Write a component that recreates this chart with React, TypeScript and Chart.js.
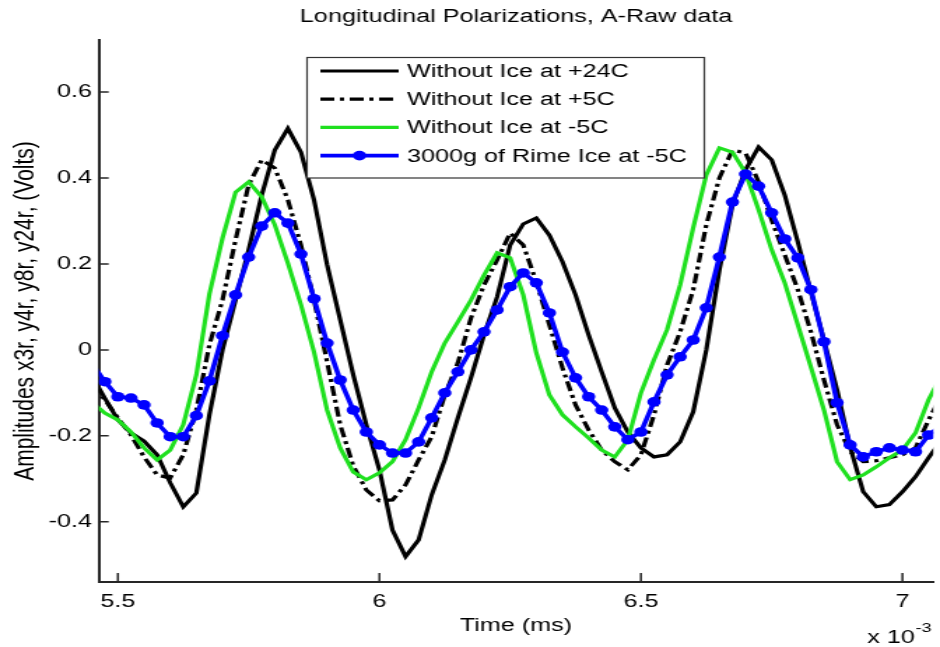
import { useEffect, useRef } from 'react';
import { Chart, registerables } from 'chart.js';

Chart.register(...registerables);

// Time axis (units of 10^-3 ms)
const times = [
  5.45, 5.475, 5.5, 5.525, 5.55, 5.575, 5.6, 5.625, 5.65, 5.675,
  5.7, 5.725, 5.75, 5.775, 5.8, 5.825, 5.85, 5.875, 5.9, 5.925,
  5.95, 5.975, 6.0, 6.025, 6.05, 6.075, 6.1, 6.125, 6.15, 6.175,
  6.2, 6.225, 6.25, 6.275, 6.3, 6.325, 6.35, 6.375, 6.4, 6.425,
  6.45, 6.475, 6.5, 6.525, 6.55, 6.575, 6.6, 6.625, 6.65, 6.675,
  6.7, 6.725, 6.75, 6.775, 6.8, 6.825, 6.85, 6.875, 6.9, 6.925,
  6.95, 6.975, 7.0, 7.025, 7.05, 7.075,
];

const withoutIce24C = [
  -0.06, -0.112, -0.163, -0.193, -0.212, -0.244, -0.309, -0.365, -0.333, -0.151,
  0.0, 0.116, 0.233, 0.36, 0.465, 0.515, 0.46, 0.349, 0.198, 0.07,
  -0.058, -0.174, -0.279, -0.419, -0.481, -0.442, -0.337, -0.256, -0.158, -0.065,
  0.035, 0.123, 0.244, 0.293, 0.307, 0.267, 0.205, 0.128, 0.035, -0.051,
  -0.135, -0.191, -0.228, -0.249, -0.244, -0.214, -0.144, 0.0, 0.186, 0.337,
  0.419, 0.472, 0.442, 0.36, 0.251, 0.135, 0.023, -0.093, -0.226, -0.33,
  -0.365, -0.36, -0.33, -0.295, -0.251, -0.209,
];

const withoutIce5C = [
  -0.08, -0.116, -0.158, -0.198, -0.249, -0.291, -0.298, -0.244, -0.14, 0.012,
  0.116, 0.256, 0.384, 0.442, 0.423, 0.349, 0.244, 0.116, -0.028, -0.174,
  -0.27, -0.326, -0.351, -0.349, -0.314, -0.256, -0.202, -0.105, -0.03, 0.074,
  0.151, 0.209, 0.272, 0.244, 0.158, 0.058, -0.042, -0.128, -0.186, -0.233,
  -0.26, -0.279, -0.244, -0.151, -0.035, 0.042, 0.14, 0.291, 0.4, 0.465,
  0.458, 0.391, 0.302, 0.221, 0.14, 0.042, -0.07, -0.174, -0.237, -0.26,
  -0.258, -0.251, -0.244, -0.228, -0.163, -0.105,
];

const withoutIceMinus5C = [
  -0.121, -0.147, -0.163, -0.191, -0.228, -0.256, -0.233, -0.174, -0.058, 0.13,
  0.26, 0.367, 0.391, 0.356, 0.291, 0.202, 0.105, -0.005, -0.14, -0.228,
  -0.284, -0.302, -0.286, -0.26, -0.209, -0.135, -0.051, 0.016, 0.065, 0.116,
  0.174, 0.226, 0.214, 0.128, -0.007, -0.105, -0.151, -0.179, -0.205, -0.233,
  -0.249, -0.209, -0.1, -0.023, 0.047, 0.151, 0.284, 0.407, 0.47, 0.46,
  0.412, 0.326, 0.233, 0.156, 0.058, -0.04, -0.14, -0.26, -0.302, -0.291,
  -0.272, -0.251, -0.233, -0.193, -0.116, -0.058,
];

const rimeIce3000g = [
  -0.03, -0.074, -0.109, -0.112, -0.128, -0.17, -0.202, -0.202, -0.153, -0.072,
  0.033, 0.128, 0.216, 0.288, 0.319, 0.295, 0.223, 0.119, 0.016, -0.07,
  -0.14, -0.191, -0.221, -0.24, -0.24, -0.214, -0.158, -0.1, -0.051, 0.0,
  0.042, 0.093, 0.147, 0.179, 0.156, 0.086, -0.005, -0.065, -0.109, -0.14,
  -0.179, -0.209, -0.191, -0.121, -0.058, -0.016, 0.023, 0.098, 0.216, 0.344,
  0.409, 0.381, 0.319, 0.258, 0.214, 0.14, 0.019, -0.123, -0.221, -0.249,
  -0.237, -0.228, -0.233, -0.237, -0.198, -0.175,
];

const seriesLabels = [
  'Without Ice at +24C',
  'Without Ice at +5C',
  'Without Ice at -5C',
  '3000g of Rime Ice at -5C',
];

const xTicks = [5.5, 6, 6.5, 7];
const yTicks = [-0.4, -0.2, 0, 0.2, 0.4, 0.6];

const FONT = 'Liberation Sans, Arial, Helvetica, sans-serif';
const AXIS_COLOR = '#262626';

const toPoints = (vals: number[]) => vals.map((v, i) => ({ x: times[i], y: v }));

// Inward tick marks, MATLAB style
const inwardTicksPlugin = {
  id: 'inwardTicks',
  afterDatasetsDraw(chart: any) {
    const ctx = chart.ctx as CanvasRenderingContext2D;
    const { left, bottom } = chart.chartArea;
    const xs = chart.scales.x;
    const ys = chart.scales.y;
    ctx.save();
    ctx.strokeStyle = AXIS_COLOR;
    ctx.lineWidth = 1.5;
    ctx.beginPath();
    xs.ticks.forEach((t: any) => {
      const px = xs.getPixelForValue(t.value);
      ctx.moveTo(px, bottom);
      ctx.lineTo(px, bottom - 9);
    });
    ys.ticks.forEach((t: any) => {
      const py = ys.getPixelForValue(t.value);
      ctx.moveTo(left, py);
      ctx.lineTo(left + 7, py);
    });
    ctx.stroke();
    ctx.restore();
  },
};

const legendPlugin = {
  id: 'matlabLegend',
  afterDraw(chart: any) {
    const ctx = chart.ctx as CanvasRenderingContext2D;
    const x0 = 219.5, y0 = 57.5, w = 284, h = 120.5;
    ctx.save();
    ctx.fillStyle = '#ffffff';
    ctx.fillRect(x0, y0, w, h);
    ctx.strokeStyle = '#333333';
    ctx.lineWidth = 1.2;
    ctx.strokeRect(x0, y0, w, h);
    chart.data.datasets.forEach((ds: any, i: number) => {
      const y = 71 + i * 28.2;
      ctx.beginPath();
      ctx.setLineDash(ds.borderDash || []);
      ctx.lineWidth = ds.borderWidth;
      ctx.strokeStyle = ds.borderColor;
      ctx.moveTo(229, y);
      ctx.lineTo(285, y);
      ctx.stroke();
      ctx.setLineDash([]);
      if (ds.pointRadius > 0) {
        ctx.beginPath();
        ctx.fillStyle = ds.pointBackgroundColor;
        ctx.arc(257, y, ds.pointRadius, 0, Math.PI * 2);
        ctx.fill();
      }
      ctx.fillStyle = '#000000';
      ctx.font = `18px ${FONT}`;
      ctx.textBaseline = 'middle';
      ctx.textAlign = 'left';
      ctx.fillText(ds.label, 291, y + 1);
    });
    ctx.restore();
  },
};

const exponentPlugin = {
  id: 'axisExponent',
  afterDraw(chart: any) {
    const ctx = chart.ctx as CanvasRenderingContext2D;
    ctx.save();
    ctx.fillStyle = '#000000';
    ctx.textBaseline = 'alphabetic';
    ctx.textAlign = 'left';
    ctx.font = `18px ${FONT}`;
    const base = 'x 10';
    const bx = 620;
    ctx.fillText(base, bx, 643);
    const bw = ctx.measureText(base).width;
    ctx.font = `13px ${FONT}`;
    ctx.fillText('-3', bx + bw + 0.5, 632);
    ctx.restore();
  },
};

export default function App() {
  const canvasRef = useRef<HTMLCanvasElement | null>(null);

  useEffect(() => {
    document.body.style.margin = '0';
    const canvas = canvasRef.current;
    if (!canvas) return;
    const chart = new Chart(canvas, {
      type: 'line',
      data: {
        datasets: [
          {
            label: seriesLabels[0],
            data: toPoints(withoutIce24C),
            borderColor: '#000000',
            backgroundColor: '#000000',
            borderWidth: 3.2,
            pointRadius: 0,
            order: 4,
          },
          {
            label: seriesLabels[1],
            data: toPoints(withoutIce5C),
            borderColor: '#000000',
            backgroundColor: '#000000',
            borderWidth: 3.2,
            borderDash: [10, 4, 3, 4],
            pointRadius: 0,
            order: 3,
          },
          {
            label: seriesLabels[2],
            data: toPoints(withoutIceMinus5C),
            borderColor: '#1fe01f',
            backgroundColor: '#1fe01f',
            borderWidth: 3.2,
            pointRadius: 0,
            order: 2,
          },
          {
            label: seriesLabels[3],
            data: toPoints(rimeIce3000g),
            borderColor: '#0000ff',
            backgroundColor: '#0000ff',
            pointBackgroundColor: '#0000ff',
            pointBorderColor: '#0000ff',
            borderWidth: 3.6,
            pointRadius: 4.8,
            pointBorderWidth: 0,
            order: 1,
          },
        ] as any,
      },
      options: {
        animation: false,
        responsive: false,
        devicePixelRatio: 1,
        events: [],
        layout: { padding: { left: 0, right: 4.1, top: 0, bottom: 0 } },
        elements: { line: { tension: 0, fill: false } },
        datasets: { line: { clip: 0 } } as any,
        plugins: {
          legend: { display: false },
          tooltip: { enabled: false },
          title: {
            display: true,
            text: 'Longitudinal Polarizations, A-Raw data',
            fullSize: false,
            color: '#000000',
            font: { family: FONT, size: 18, weight: 'normal' },
            padding: { top: 6.7, bottom: 11.7 },
          },
        },
        scales: {
          x: {
            type: 'linear',
            min: 5.4637,
            max: 7.059,
            afterBuildTicks: (s: any) => {
              s.ticks = xTicks.map((v) => ({ value: v }));
            },
            afterFit: (s: any) => {
              s.height = 65;
            },
            ticks: {
              autoSkip: false,
              maxRotation: 0,
              color: '#000000',
              font: { family: FONT, size: 18 },
              padding: 8.9,
              callback: (v: any) => String(v),
            },
            grid: { drawOnChartArea: false, drawTicks: false },
            border: { display: true, color: AXIS_COLOR, width: 2 },
            title: {
              display: true,
              text: 'Time (ms)',
              color: '#000000',
              font: { family: FONT, size: 18 },
              padding: { top: 0, bottom: 10.2 },
            },
          },
          y: {
            type: 'linear',
            min: -0.54,
            max: 0.721,
            afterBuildTicks: (s: any) => {
              s.ticks = yTicks.map((v) => ({ value: v }));
            },
            afterFit: (s: any) => {
              s.width = 70.7;
            },
            ticks: {
              color: '#000000',
              font: { family: FONT, size: 18 },
              padding: 5,
              callback: (v: any) => String(Math.round(v * 10) / 10),
            },
            grid: { drawOnChartArea: false, drawTicks: false },
            border: { display: true, color: AXIS_COLOR, width: 2 },
            title: {
              display: true,
              text: 'Amplitudes x3r, y4r, y8r, y24r, (Volts)',
              color: '#000000',
              font: { family: FONT, size: 21 },
              padding: { top: 5.3, bottom: 0 },
            },
          },
        },
      } as any,
      plugins: [inwardTicksPlugin, legendPlugin, exponentPlugin],
    });
    return () => chart.destroy();
  }, []);

  return (
    <div style={{ width: 940, height: 647 }}>
      <canvas
        ref={canvasRef}
        width={672}
        height={647}
        style={{ width: '940px', height: '647px', display: 'block' }}
      />
    </div>
  );
}
